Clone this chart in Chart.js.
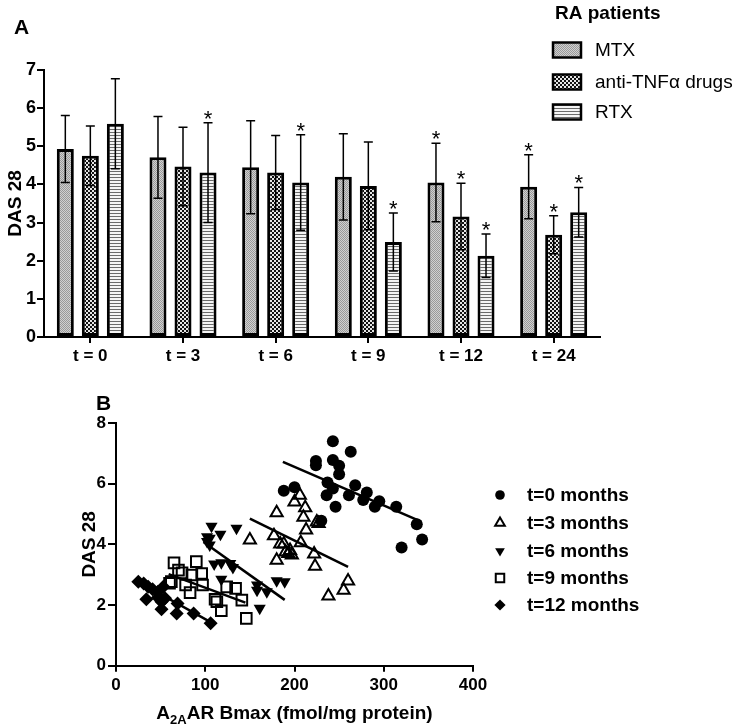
<!DOCTYPE html>
<html>
<head>
<meta charset="utf-8">
<script src="https://cdn.jsdelivr.net/npm/chart.js@4.4.1/dist/chart.umd.min.js"></script>
<style>
  body { margin: 0; background: #fff; }
  #wrapA { position: absolute; left: 0; top: 0; }
  #wrapB { position: absolute; left: 0; top: 370px; }
</style>
</head>
<body>
<div id="wrapA"><canvas id="chartA" width="739" height="370"></canvas></div>
<div id="wrapB"><canvas id="chartB" width="739" height="356"></canvas></div>
<script>
// panel A: DAS 28 by treatment group over time (mean, SD)
const categories = ["t = 0", "t = 3", "t = 6", "t = 9", "t = 12", "t = 24"];
const mtxMean = [4.93, 4.71, 4.45, 4.20, 4.05, 3.94];
const mtxSd   = [0.88, 1.07, 1.22, 1.13, 1.03, 0.84];
const tnfMean = [4.75, 4.47, 4.31, 3.96, 3.16, 2.68];
const tnfSd   = [0.78, 1.03, 0.97, 1.15, 0.87, 0.50];
const rtxMean = [5.59, 4.31, 4.05, 2.49, 2.13, 3.27];
const rtxSd   = [1.18, 1.31, 1.25, 0.76, 0.57, 0.65];
const mtxStars = [0, 0, 0, 0, 1, 1];
const tnfStars = [0, 0, 0, 0, 1, 1];
const rtxStars = [0, 1, 1, 1, 1, 1];
const yTicksA = [0, 1, 2, 3, 4, 5, 6, 7];

// panel B: DAS 28 vs A2AAR Bmax, one array of [x, y] per time point
const t0Points = [[188,5.77],[200,5.88],[224,6.75],[224,6.61],[243,7.40],[243,6.78],[263,7.05],[250,6.59],
  [250,6.31],[237,6.04],[243,5.84],[236,5.62],[246,5.24],[268,5.95],[261,5.62],[281,5.71],[277,5.46],
  [295,5.42],[290,5.24],[314,5.24],[337,4.66],[343,4.16],[320,3.90],[230,4.78]];
const t3Points = [[150,4.14],[177,4.28],[180,5.04],[180,3.48],[184,4.01],[188,4.01],[190,3.75],[193,3.70],
  [195,3.80],[197,3.65],[200,5.40],[206,5.62],[212,5.21],[210,4.89],[213,4.47],[207,4.05],[225,4.74],
  [227,4.69],[222,3.68],[223,3.28],[238,2.30],[255,2.49],[260,2.79]];
const t6Points = [[107,4.60],[135,4.53],[117,4.33],[102,4.25],[105,4.20],[102,4.09],[105,3.98],[110,3.35],
  [118,3.39],[128,3.37],[131,3.24],[118,2.85],[158,2.66],[158,2.49],[169,2.44],[180,2.80],[189,2.77],[161,1.89]];
const t9Points = [[65,3.39],[90,3.43],[70,3.15],[74,3.06],[85,2.99],[96,3.04],[62,2.77],[60,2.72],[78,2.66],
  [97,2.66],[83,2.41],[124,2.60],[134,2.55],[111,2.19],[113,2.11],[141,2.16],[118,1.81],[146,1.56]];
const t12Points = [[25,2.77],[31,2.71],[36,2.60],[41,2.52],[47,2.44],[53,2.60],[34,2.19],[47,2.25],[51,2.11],
  [55,2.22],[51,1.86],[69,2.05],[68,1.72],[87,1.72],[106,1.40]];
// regression line end points
const t0Fit = [[187,6.72],[342,4.75]];
const t3Fit = [[150,4.85],[260,3.26]];
const t6Fit = [[98,4.08],[189,2.17]];
const t9Fit = [[59,3.02],[145,2.08]];
const t12Fit = [[23,2.80],[107,1.42]];
const xTicksB = [0, 100, 200, 300, 400];
const yTicksB = [0, 2, 4, 6, 8];

Chart.defaults.font.family = "'Liberation Sans', Arial, sans-serif";
Chart.defaults.color = "#000";

function makePattern(ctx, kind) {
  const c = document.createElement("canvas");
  const t = c.getContext("2d");
  if (kind === "dots") {
    c.width = 2; c.height = 2;
    t.fillStyle = "#d0d0d0"; t.fillRect(0, 0, 2, 2);
    t.fillStyle = "#999999"; t.fillRect(0, 0, 1, 1); t.fillRect(1, 1, 1, 1);
  } else if (kind === "check") {
    c.width = 4; c.height = 4;
    t.fillStyle = "#e6e6e6"; t.fillRect(0, 0, 4, 4);
    t.fillStyle = "#111111"; t.fillRect(0, 0, 2, 2); t.fillRect(2, 2, 2, 2);
  } else {
    c.width = 3; c.height = 3;
    t.fillStyle = "#f4f4f4"; t.fillRect(0, 0, 3, 3);
    t.fillStyle = "#6a6a6a"; t.fillRect(0, 0, 3, 1);
  }
  return ctx.createPattern(c, "repeat");
}

const ctxA = document.getElementById("chartA").getContext("2d");
const patMTX = makePattern(ctxA, "dots");
const patTNF = makePattern(ctxA, "check");
const patRTX = makePattern(ctxA, "lines");

const errorBars = {
  id: "errorBars",
  afterDatasetsDraw(chart) {
    const ctx = chart.ctx;
    const y = chart.scales.y;
    ctx.save();
    ctx.strokeStyle = "#000";
    ctx.lineWidth = 1.5;
    chart.data.datasets.forEach((ds, i) => {
      const meta = chart.getDatasetMeta(i);
      meta.data.forEach((bar, j) => {
        const top = y.getPixelForValue(ds.data[j] + ds.sd[j]);
        const bot = y.getPixelForValue(ds.data[j] - ds.sd[j]);
        ctx.beginPath();
        ctx.moveTo(bar.x, top); ctx.lineTo(bar.x, bot);
        ctx.moveTo(bar.x - 4.5, top); ctx.lineTo(bar.x + 4.5, top);
        ctx.moveTo(bar.x - 4.5, bot); ctx.lineTo(bar.x + 4.5, bot);
        ctx.stroke();
        if (ds.stars[j]) {
          ctx.fillStyle = "#000";
          ctx.font = "22px 'Liberation Sans', Arial, sans-serif";
          ctx.textAlign = "center";
          ctx.textBaseline = "alphabetic";
          ctx.fillText("*", bar.x, top + 3);
        }
      });
    });
    ctx.restore();
  }
};

const legendA = {
  id: "legendA",
  afterDraw(chart) {
    const ctx = chart.ctx;
    ctx.save();
    ctx.fillStyle = "#000";
    ctx.textBaseline = "middle";
    ctx.textAlign = "left";
    ctx.font = "bold 21px 'Liberation Sans', Arial, sans-serif";
    ctx.fillText("A", 14, 28);
    ctx.font = "bold 19px 'Liberation Sans', Arial, sans-serif";
    ctx.fillText("RA patients", 555, 14);
    const rows = [50, 82, 112];
    ctx.font = "19px 'Liberation Sans', Arial, sans-serif";
    chart.data.datasets.forEach((ds, i) => {
      const yy = rows[i];
      ctx.fillStyle = ds.backgroundColor;
      ctx.fillRect(553, yy - 7.5, 28, 15);
      ctx.strokeStyle = "#000";
      ctx.lineWidth = 2.5;
      ctx.strokeRect(553, yy - 7.5, 28, 15);
      ctx.fillStyle = "#000";
      ctx.fillText(ds.label, 595, yy + 1);
    });
    ctx.restore();
  }
};

new Chart(ctxA, {
  type: "bar",
  data: {
    labels: categories,
    datasets: [
      { label: "MTX", data: mtxMean, sd: mtxSd, stars: mtxStars, backgroundColor: patMTX },
      { label: "anti-TNF\u03b1 drugs", data: tnfMean, sd: tnfSd, stars: tnfStars, backgroundColor: patTNF },
      { label: "RTX", data: rtxMean, sd: rtxSd, stars: rtxStars, backgroundColor: patRTX }
    ]
  },
  options: {
    responsive: false,
    devicePixelRatio: 1,
    animation: false,
    datasets: {
      bar: { categoryPercentage: 0.81, barPercentage: 0.68, borderColor: "#000", borderWidth: 3, borderSkipped: false }
    },
    layout: { padding: { left: 0, top: 70, right: 139, bottom: 0 } },
    plugins: { legend: { display: false }, tooltip: { enabled: false } },
    scales: {
      x: {
        grid: { drawOnChartArea: false, offset: false, tickLength: 6, color: "#000", lineWidth: 2 },
        border: { color: "#000", width: 2 },
        ticks: { font: { size: 17, weight: "bold" }, padding: 3, maxRotation: 0 },
        afterFit: s => { s.height = 33; }
      },
      y: {
        min: 0, max: 7,
        afterBuildTicks: s => { s.ticks = yTicksA.map(v => ({ value: v })); },
        grid: { drawOnChartArea: false, tickLength: 7, color: "#000", lineWidth: 2 },
        border: { color: "#000", width: 2 },
        ticks: { font: { size: 18, weight: "bold" }, padding: 1 },
        title: { display: true, text: "DAS 28", font: { size: 19, weight: "bold" }, padding: { top: 4, bottom: 0 } },
        afterFit: s => { s.width = 44; }
      }
    }
  },
  plugins: [errorBars, legendA]
});

// ---------- panel B ----------
const toXY = arr => arr.map(p => ({ x: p[0], y: p[1] }));
const fitLine = arr => ({
  data: toXY(arr), showLine: true, pointRadius: 0, borderColor: "#000", borderWidth: 2.5, order: 0
});

const groupsB = [
  { label: "t=0 months", pts: t0Points, style: "circle", r: 6, fill: "#000", rot: 0 },
  { label: "t=3 months", pts: t3Points, style: "triangle", r: 7, fill: "rgba(0,0,0,0)", rot: 0 },
  { label: "t=6 months", pts: t6Points, style: "triangle", r: 7, fill: "#000", rot: 180 },
  { label: "t=9 months", pts: t9Points, style: "rect", r: 7.5, fill: "rgba(0,0,0,0)", rot: 0 },
  { label: "t=12 months", pts: t12Points, style: "rectRot", r: 7, fill: "#000", rot: 0 }
];

const legendB = {
  id: "legendB",
  afterDraw(chart) {
    const ctx = chart.ctx;
    const xs = chart.scales.x;
    ctx.save();
    ctx.fillStyle = "#000";
    ctx.textBaseline = "middle";
    ctx.textAlign = "left";
    ctx.font = "bold 21px 'Liberation Sans', Arial, sans-serif";
    ctx.fillText("B", 96, 34);

    // legend
    const rows = [125, 153, 181, 208, 235];
    groupsB.forEach((g, i) => {
      ctx.fillStyle = g.fill;
      ctx.strokeStyle = "#000";
      ctx.lineWidth = 2;
      Chart.helpers.drawPoint(ctx, { pointStyle: g.style, radius: g.r * 0.8, rotation: g.rot, borderWidth: g.fill === "#000" ? 0 : 2 }, 500, rows[i]);
      ctx.fillStyle = "#000";
      ctx.font = "bold 19px 'Liberation Sans', Arial, sans-serif";
      ctx.fillText(g.label, 527, rows[i] + 1);
    });

    // x-axis title with subscript
    const big = "bold 19px 'Liberation Sans', Arial, sans-serif";
    const small = "bold 13px 'Liberation Sans', Arial, sans-serif";
    ctx.textBaseline = "alphabetic";
    ctx.font = big; const w1 = ctx.measureText("A").width;
    ctx.font = small; const w2 = ctx.measureText("2A").width;
    ctx.font = big; const w3 = ctx.measureText("AR Bmax (fmol/mg protein)").width;
    let x0 = (xs.left + xs.right) / 2 - (w1 + w2 + w3) / 2;
    const base = 349;
    ctx.font = big; ctx.fillText("A", x0, base); x0 += w1;
    ctx.font = small; ctx.fillText("2A", x0, base + 5); x0 += w2;
    ctx.font = big; ctx.fillText("AR Bmax (fmol/mg protein)", x0, base);
    ctx.restore();
  }
};

new Chart(document.getElementById("chartB"), {
  type: "scatter",
  data: {
    datasets: [
      fitLine(t0Fit), fitLine(t3Fit), fitLine(t6Fit), fitLine(t9Fit), fitLine(t12Fit),
      ...groupsB.map(g => ({
        label: g.label,
        data: toXY(g.pts),
        pointStyle: g.style,
        pointRadius: g.r,
        pointRotation: g.rot,
        pointBackgroundColor: g.fill,
        pointBorderColor: "#000",
        pointBorderWidth: g.fill === "#000" ? 0 : 2,
        order: 1
      }))
    ]
  },
  options: {
    responsive: false,
    devicePixelRatio: 1,
    animation: false,
    layout: { padding: { left: 75, top: 53, right: 266, bottom: 0 } },
    plugins: { legend: { display: false }, tooltip: { enabled: false } },
    scales: {
      x: {
        type: "linear", min: 0, max: 400,
        afterBuildTicks: s => { s.ticks = xTicksB.map(v => ({ value: v })); },
        grid: { drawOnChartArea: false, tickLength: 6, color: "#000", lineWidth: 2 },
        border: { color: "#000", width: 2 },
        ticks: { font: { size: 17, weight: "bold" }, padding: 3 },
        afterFit: s => { s.height = 60.3; }
      },
      y: {
        min: 0, max: 8,
        afterBuildTicks: s => { s.ticks = yTicksB.map(v => ({ value: v })); },
        grid: { drawOnChartArea: false, tickLength: 8, color: "#000", lineWidth: 2 },
        border: { color: "#000", width: 2 },
        ticks: { font: { size: 17, weight: "bold" }, padding: 2 },
        title: { display: true, text: "DAS 28", font: { size: 19, weight: "bold" }, padding: { top: 3, bottom: 0 } },
        afterFit: s => { s.width = 41; }
      }
    }
  },
  plugins: [legendB]
});
</script>
</body>
</html>
